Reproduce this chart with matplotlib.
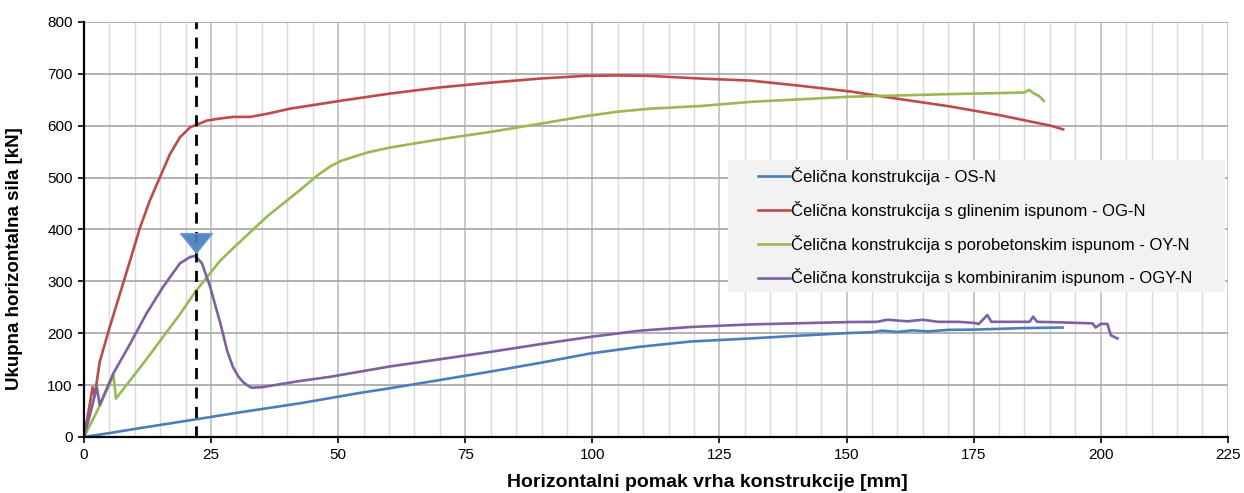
import numpy as np
import matplotlib
matplotlib.use("Agg")
import matplotlib.pyplot as plt
from matplotlib.patches import Rectangle

# pomak [mm], sila [kN]
os_x = [0, 5, 10, 22, 30, 42.5, 54.3, 60.2, 70.1, 79.9, 89.8, 99.6, 109.4, 119.3, 131.1, 140, 150.8,
        155, 157, 160, 163, 166, 170, 175, 180, 185, 192.5]
os_y = [0, 7.5, 15.5, 34, 46.5, 65, 85, 94, 110, 126, 143, 161, 174, 184, 190, 195, 200.6,
        202, 205, 202.5, 205.5, 203.5, 206.5, 207, 208.5, 210, 211]

og_x = [0, 1.0, 1.7, 2.1, 2.6, 3.1, 5.1, 7.1, 9.1, 11.0, 13.0, 15.0, 16.9, 18.9, 20.9, 21.9, 24.2, 26.8,
        29.4, 32.7, 36, 40.6, 50.4, 60.2, 70.1, 79.9, 89.8, 98.3, 104.9, 111.4, 121.3, 131.1, 140,
        150.8, 157.3, 170.5, 180.3, 190.2, 192.6]
og_y = [0, 55, 96, 78, 112, 145, 213, 277, 341, 403, 457, 502, 545, 578, 597, 601, 610, 614,
        617, 617, 623, 633, 648, 662, 674, 683, 691, 696, 697, 696, 691, 687, 678,
        666, 656, 637, 620, 600, 593]

oy_x = [0, 3, 5.8, 6.3, 12.3, 18.9, 21.9, 26.8, 30, 36, 42.5, 46, 48.5, 50.5, 53, 56, 60.2, 70.1,
        79.9, 89.8, 98.3, 104.9, 111.4, 121.3, 131.1, 150.8, 170.5, 184.9, 185.9, 186.9, 187.9, 188.8]
oy_y = [0, 58, 119, 74, 150, 237, 280, 340, 370, 425, 476, 505, 522, 532, 540, 549, 558, 574,
        588, 604, 618, 627, 633, 638, 646, 656, 661, 664, 669, 662, 657, 648]

ogy_x = [0, 1.5, 2.5, 3.1, 5.8, 9.1, 12.3, 15.6, 18.9, 20.9, 21.9, 23.2, 24.8, 26.8, 28.2,
         29.3, 30.4, 31.3, 32.2, 33, 35, 42.5, 48.4, 60.2, 70.1, 79.9, 89.8, 99.6, 109.4, 119.3, 131.1,
         150.6, 156, 158, 162, 165, 168, 172, 175, 176, 177.7, 178.5, 182, 186, 186.7, 187.5, 192,
         198.4, 199, 200, 201.3, 202, 203.3]
ogy_y = [0, 55, 97, 62, 123, 180, 238, 290, 335, 347, 349, 335, 290, 220, 165,
         135, 116, 106, 99, 95, 96, 108, 116, 136, 150, 164, 179, 193, 205, 212, 217,
         221.6, 222, 226, 223, 226, 222, 222, 220, 218, 235, 222, 222, 222, 232, 222, 221,
         219, 211, 218, 218, 196, 190]

labels = ["Čelična konstrukcija - OS-N",
          "Čelična konstrukcija s glinenim ispunom - OG-N",
          "Čelična konstrukcija s porobetonskim ispunom - OY-N",
          "Čelična konstrukcija s kombiniranim ispunom - OGY-N"]
boje = ["#4a7ebb", "#be4b48", "#98b954", "#7d60a0"]

x_granica = 22
marker_y = 374

font = ["Liberation Sans", "DejaVu Sans"]

fig = plt.figure(figsize=(12.44, 4.93), dpi=100)
ax = fig.add_axes([0.0675, 0.1136, 0.9195, 0.8418])

for xs, ys, b, l in zip([os_x, og_x, oy_x, ogy_x], [os_y, og_y, oy_y, ogy_y], boje, labels):
    ax.plot(xs, ys, color=b, lw=1.9, label=l, zorder=3)

ax.plot([x_granica, x_granica], [0, 800], color="black", lw=2.0, ls=(0, (4, 3)), zorder=4)
trokut = [(-1, 0.62), (1, 0.62), (0, -0.62), (-1, 0.62)]
ax.plot([x_granica], [marker_y], marker=trokut, ms=23, color="#4a7ebb", mec="#6a9ad6",
        mew=1.0, alpha=0.92, zorder=5, clip_on=False)

ax.set_xlim(0, 225)
ax.set_ylim(0, 800)
ax.set_xticks(np.arange(0, 226, 25))
ax.set_xticks(np.arange(0, 226, 5), minor=True)
ax.set_yticks(np.arange(0, 801, 100))
ax.grid(which="minor", axis="x", color="#d9d9d9", lw=1.0, zorder=0)
ax.grid(which="major", axis="x", color="#bfbfbf", lw=1.2, zorder=0)
ax.grid(which="major", axis="y", color="#a6a6a6", lw=1.2, zorder=0)
ax.tick_params(which="minor", length=0)
ax.tick_params(which="major", length=4, width=1.2, direction="out", labelsize=11, pad=4)
for t in ax.get_xticklabels() + ax.get_yticklabels():
    t.set_family(font)
for s in ["top", "right"]:
    ax.spines[s].set_visible(False)
for s in ["left", "bottom"]:
    ax.spines[s].set_linewidth(1.6)
    ax.spines[s].set_zorder(6)

ax.set_xlabel("Horizontalni pomak vrha konstrukcije [mm]", family=font, fontsize=14,
              fontweight="bold")
ax.xaxis.set_label_coords(0.545, -0.088)
ax.set_ylabel("Ukupna horizontalna sila [kN]", family=font, fontsize=13.5, fontweight="bold")
ax.yaxis.set_label_coords(-0.053, 0.43)

# pozadina legende
ax.add_patch(Rectangle((728 / 1244, 1 - 292 / 493), (1225 - 728) / 1244, 132 / 493,
                       transform=fig.transFigure, facecolor="#f2f2f2", edgecolor="none",
                       zorder=2))
leg = ax.legend(loc="upper left", bbox_to_anchor=(758 / 1244, 1 - 167 / 493),
                bbox_transform=fig.transFigure, frameon=False, borderaxespad=0, borderpad=0,
                handlelength=1.92, handletextpad=0.05, labelspacing=0.95,
                prop={"family": font, "size": 12})
leg.set_zorder(7)
for line in leg.get_lines():
    line.set_linewidth(1.9)

fig.savefig("out.png", dpi=100)
